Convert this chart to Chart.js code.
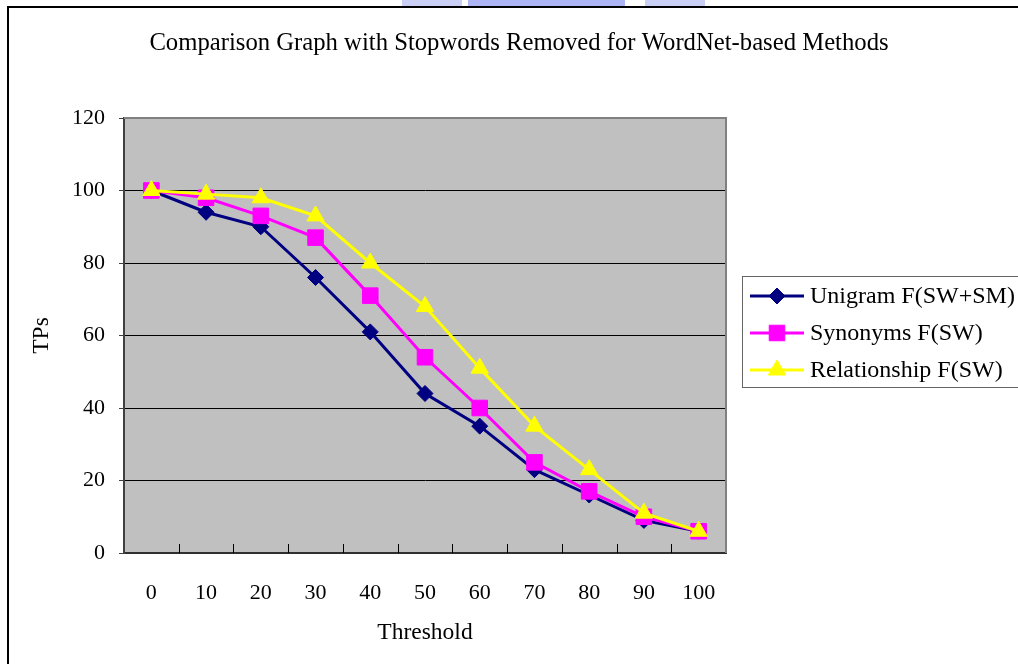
<!DOCTYPE html>
<html>
<head>
<meta charset="utf-8">
<title>Comparison Graph</title>
<script src="https://cdn.jsdelivr.net/npm/chart.js@4"></script>
<style>
  body { margin: 0; background: #fff; }
  canvas { display: block; }
</style>
</head>
<body>
<canvas id="chart" width="1018" height="664"></canvas>
<script>
// Thresholds and TP counts per method
const thresholds = ["0", "10", "20", "30", "40", "50", "60", "70", "80", "90", "100"];
const unigram = [100, 94, 90, 76, 61, 44, 35, 23, 16, 9, 6];
const synonyms = [100, 98, 93, 87, 71, 54, 40, 25, 17, 10, 6];
const relationship = [100, 99, 98, 93, 80, 68, 51, 35, 23, 11, 6];

const serif = "'Liberation Serif', 'Times New Roman', serif";
const font = { family: serif, size: 22 };
const titleFont = { family: serif, size: 23.5 };

// Outer frame, title, faded header band
const framePlugin = {
  id: "frame",
  beforeDraw(chart) {
    const ctx = chart.ctx;
    ctx.save();
    ctx.fillStyle = "#fff";
    ctx.fillRect(0, 0, chart.width, chart.height);

    ctx.fillStyle = "rgba(150, 160, 235, 0.5)";
    ctx.fillRect(402, 0, 60, 6);
    ctx.fillStyle = "rgba(140, 150, 240, 0.7)";
    ctx.fillRect(468, 0, 157, 6);
    ctx.fillStyle = "rgba(150, 160, 235, 0.5)";
    ctx.fillRect(645, 0, 60, 6);

    ctx.strokeStyle = "#000";
    ctx.lineWidth = 2;
    ctx.beginPath();
    ctx.moveTo(8, chart.height);
    ctx.lineTo(8, 7);
    ctx.lineTo(chart.width, 7);
    ctx.stroke();

    ctx.fillStyle = "#000";
    ctx.font = "24.7px " + serif;
    ctx.textAlign = "center";
    ctx.textBaseline = "middle";
    ctx.fillText("Comparison Graph with Stopwords Removed for WordNet-based Methods", 519, 44);

    // grey plot area
    const a = chart.chartArea;
    ctx.fillStyle = "#c0c0c0";
    ctx.fillRect(a.left, a.top, a.right - a.left, a.bottom - a.top);
    ctx.restore();
  },
  beforeDatasetsDraw(chart) {
    const ctx = chart.ctx;
    const a = chart.chartArea;
    const x = chart.scales.x;
    ctx.save();
    ctx.strokeStyle = "#808080";
    ctx.lineWidth = 2;
    ctx.beginPath();
    ctx.moveTo(a.left, a.top);
    ctx.lineTo(a.right, a.top);
    ctx.lineTo(a.right, a.bottom);
    ctx.stroke();

    // inward tick marks between categories
    ctx.strokeStyle = "#000";
    ctx.lineWidth = 1;
    ctx.beginPath();
    for (let i = 1; i < thresholds.length; i++) {
      const px = Math.round((x.getPixelForTick(i - 1) + x.getPixelForTick(i)) / 2) + 0.5;
      ctx.moveTo(px, a.bottom);
      ctx.lineTo(px, a.bottom - 9);
    }
    ctx.stroke();
    ctx.restore();
  },
  afterDraw(chart) {
    const ctx = chart.ctx;
    const sets = chart.data.datasets;
    ctx.save();
    ctx.strokeStyle = "#666";
    ctx.lineWidth = 1;
    ctx.strokeRect(742.5, 276.5, 320, 111);
    ctx.font = "24px " + serif;
    ctx.textAlign = "left";
    ctx.textBaseline = "middle";
    sets.forEach((ds, i) => {
      const y = 296 + i * 37;
      ctx.strokeStyle = ds.borderColor;
      ctx.lineWidth = 3;
      ctx.beginPath();
      ctx.moveTo(750, y);
      ctx.lineTo(804, y);
      ctx.stroke();
      ctx.fillStyle = ds.pointBackgroundColor;
      ctx.strokeStyle = ds.pointBorderColor;
      ctx.lineWidth = 1;
      Chart.helpers.drawPoint(ctx, { pointStyle: ds.pointStyle, radius: ds.pointRadius, rotation: 0, borderWidth: 1 }, 777, y);
      ctx.fillStyle = "#000";
      ctx.fillText(ds.label, 810, y + 1);
    });
    ctx.restore();
  }
};

function series(label, data, color, style, radius, order) {
  return {
    label, data, order,
    borderColor: color,
    backgroundColor: color,
    borderWidth: 3,
    pointStyle: style,
    pointRadius: radius,
    pointHoverRadius: radius,
    pointBackgroundColor: color,
    pointBorderColor: color,
    pointBorderWidth: 1,
    tension: 0,
    clip: false
  };
}

new Chart(document.getElementById("chart"), {
  type: "line",
  data: {
    labels: thresholds,
    datasets: [
      series("Unigram F(SW+SM)", unigram, "#000080", "rectRot", 8, 2),
      series("Synonyms F(SW)", synonyms, "#ff00ff", "rect", 11, 1),
      series("Relationship F(SW)", relationship, "#ffff00", "triangle", 10, 0)
    ]
  },
  options: {
    responsive: false,
    animation: false,
    layout: { padding: { left: 0, top: 118, right: 292, bottom: 0 } },
    plugins: {
      legend: { display: false },
      title: { display: false },
      tooltip: { enabled: false }
    },
    scales: {
      x: {
        offset: true,
        grid: { display: true, drawOnChartArea: false, drawTicks: false, offset: true, color: "rgba(0,0,0,0)" },
        border: { color: "#303030", width: 2 },
        ticks: { color: "#000", font, padding: 27, maxRotation: 0 },
        title: { display: true, text: "Threshold", color: "#000", font: titleFont, padding: { top: 0, bottom: 17 } },
        afterFit(s) { s.height = 111; }
      },
      y: {
        min: 0,
        max: 120,
        grid: { color: "#000", lineWidth: 1, tickLength: 5, tickColor: "#404040" },
        border: { color: "#404040", width: 2 },
        ticks: { stepSize: 20, color: "#000", font, padding: 14 },
        title: { display: true, text: "TPs", color: "#000", font: titleFont, padding: { top: 28, bottom: 0 } },
        afterFit(s) { s.width = 124; }
      }
    }
  },
  plugins: [framePlugin]
});
</script>
</body>
</html>
